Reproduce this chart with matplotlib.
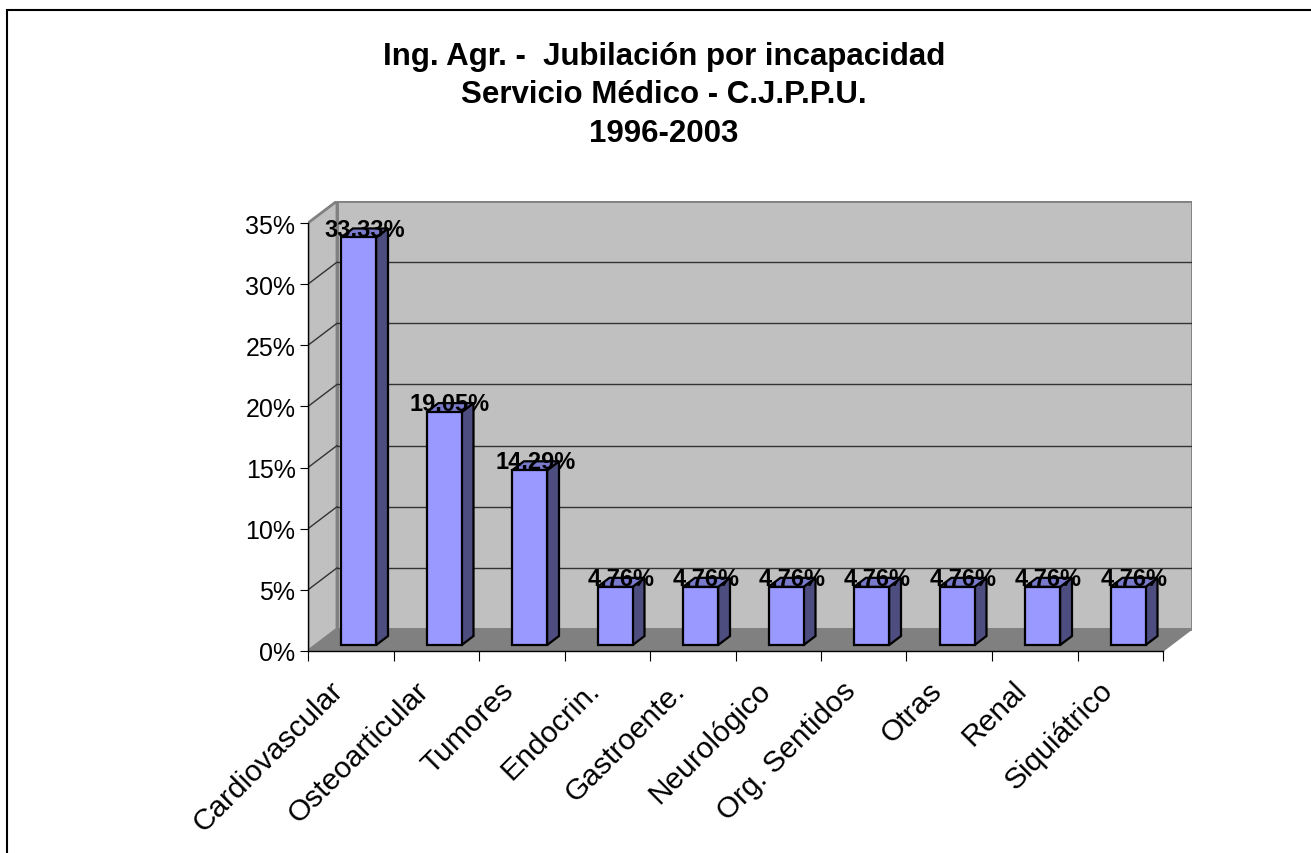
import matplotlib
matplotlib.use("Agg")
import matplotlib.pyplot as plt
from matplotlib.patches import Polygon, Rectangle
from matplotlib.transforms import ScaledTranslation

# data
categories = ["Cardiovascular", "Osteoarticular", "Tumores", "Endocrin.", "Gastroente.",
              "Neurológico", "Org. Sentidos", "Otras", "Renal", "Siquiátrico"]
values = [33.33, 19.05, 14.29, 4.76, 4.76, 4.76, 4.76, 4.76, 4.76, 4.76]
y_ticks = [0, 5, 10, 15, 20, 25, 30, 35]
title = "Ing. Agr. -  Jubilación por incapacidad\nServicio Médico - C.J.P.P.U.\n1996-2003"

plt.rcParams['font.family'] = ['Liberation Sans', 'DejaVu Sans']

W, H = 1311, 854
fig = plt.figure(figsize=(W / 100, H / 100), dpi=100)
ax = fig.add_axes([308 / W, (H - 652) / H, 884 / W, 450 / H])
ax.patch.set_visible(False)

n = len(categories)
ymax = y_ticks[-1]
DX = 29 / 85.5          # depth offset (category units)
DY = 22 / (428 / ymax)  # depth offset (percent units)
ax.set_xlim(0, n + DX)
ax.set_ylim(0, ymax + DY)

wall_edge = "#808080"
# back wall, side wall, floor
ax.add_patch(Polygon([(DX, DY), (n + DX, DY), (n + DX, ymax + DY), (DX, ymax + DY)],
                     closed=True, fc="#c0c0c0", ec=wall_edge, lw=2, zorder=1))
ax.add_patch(Polygon([(0, 0), (DX, DY), (DX, ymax + DY), (0, ymax)],
                     closed=True, fc="#c0c0c0", ec=wall_edge, lw=2, zorder=1))
ax.add_patch(Polygon([(0, 0), (n, 0), (n + DX, DY), (DX, DY)],
                     closed=True, fc="#808080", ec=wall_edge, lw=1, zorder=2))

# gridlines on back and side wall
for t in y_ticks[1:-1]:
    ax.plot([DX, n + DX], [t + DY, t + DY], color="#333333", lw=1, zorder=2)
    ax.plot([0, DX], [t, t + DY], color="#333333", lw=1, zorder=2)

# 3d bars
bw = 0.41
f0, f1 = 0.27, 0.68
for i, v in enumerate(values):
    x0 = i + 0.5 - bw / 2 + f0 * DX
    y0 = f0 * DY
    ddx = (f1 - f0) * DX
    ddy = (f1 - f0) * DY
    ax.add_patch(Polygon([(x0 + bw, y0), (x0 + bw + ddx, y0 + ddy),
                          (x0 + bw + ddx, y0 + v + ddy), (x0 + bw, y0 + v)],
                         closed=True, fc="#4d4d80", ec="black", lw=1.6, zorder=3))
    ax.add_patch(Polygon([(x0, y0 + v), (x0 + bw, y0 + v),
                          (x0 + bw + ddx, y0 + v + ddy), (x0 + ddx, y0 + v + ddy)],
                         closed=True, fc="#7a7acc", ec="black", lw=1.6, zorder=3))
    ax.add_patch(Polygon([(x0, y0), (x0 + bw, y0), (x0 + bw, y0 + v), (x0, y0 + v)],
                         closed=True, fc="#9999ff", ec="black", lw=1.6, zorder=3))
    ax.text(x0 + bw / 2 + ddx / 2, y0 + v + 0.15, f"{v:.2f}%", ha="center", va="baseline",
            fontsize=17, fontweight="bold", zorder=5)

# axes
for s in ["top", "right"]:
    ax.spines[s].set_visible(False)
ax.spines["left"].set_bounds(0, ymax)
ax.spines["bottom"].set_bounds(0, n)
for s in ["left", "bottom"]:
    ax.spines[s].set_zorder(4)
    ax.spines[s].set_linewidth(1)

ax.set_yticks(y_ticks)
ax.set_yticklabels([f"{t}%" for t in y_ticks], fontsize=18)
ax.tick_params(axis="y", length=6, pad=3)

ax.set_xticks(range(n + 1))
ax.set_xticklabels([""] * (n + 1))
ax.tick_params(axis="x", which="major", length=7)
ax.set_xticks([i + 0.5 for i in range(n)], minor=True)
ax.set_xticklabels(categories, minor=True, fontsize=21.5, rotation=45,
                   ha="right", va="top", rotation_mode="anchor")
ax.tick_params(axis="x", which="minor", length=0, pad=14)
shift = ScaledTranslation(-22 / 100, -5 / 100, fig.dpi_scale_trans)
for lab in ax.get_xticklabels(minor=True):
    lab.set_transform(lab.get_transform() + shift)

fig.text(664 / W, 1 - 42 / H, title, ha="center", va="top", fontsize=22.5,
         fontweight="bold", linespacing=1.36)

# chart area border
fig.patches.append(Rectangle((7 / W, -0.1), 1.2, 1 - 11 / H + 0.1, transform=fig.transFigure,
                             fill=False, ec="black", lw=1.5))

fig.savefig("out.png", dpi=100)
